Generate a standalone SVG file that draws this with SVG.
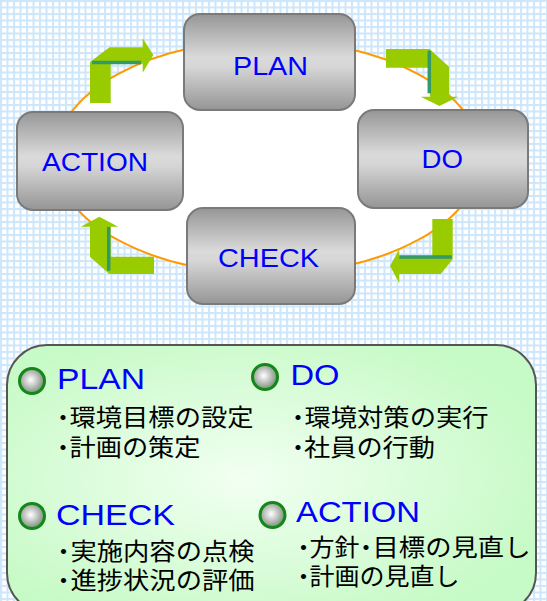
<svg xmlns="http://www.w3.org/2000/svg" width="547" height="601" viewBox="0 0 547 601">
  <defs>
    <pattern id="grid" width="6.5" height="6.5" patternUnits="userSpaceOnUse">
      <rect width="6.5" height="6.5" fill="#cde6fb"/>
      <rect x="2" y="2" width="4.5" height="4.5" fill="#ffffff"/>
    </pattern>
    <linearGradient id="boxGrad" x1="0" y1="0" x2="0" y2="1">
      <stop offset="0" stop-color="#969696"/>
      <stop offset="0.45" stop-color="#dadada"/>
      <stop offset="0.55" stop-color="#d6d6d6"/>
      <stop offset="1" stop-color="#959595"/>
    </linearGradient>
    <radialGradient id="panelGrad" cx="0.45" cy="0.5" r="0.6">
      <stop offset="0" stop-color="#f2fff2"/>
      <stop offset="1" stop-color="#c6fac6"/>
    </radialGradient>
    <radialGradient id="bulletGrad" cx="0.45" cy="0.45" r="0.55">
      <stop offset="0" stop-color="#ffffff"/>
      <stop offset="0.6" stop-color="#b4b8b4"/>
      <stop offset="1" stop-color="#6a9a6a"/>
    </radialGradient>
    <style>
      .box { fill: url(#boxGrad); stroke: #7a7a7a; stroke-width: 2; }
      .boxlabel { font-family: "Liberation Sans", Arial, sans-serif; font-size: 25.5px; fill: #0000ff; }
      .arrow { fill: #99cc00; }
      .teal { stroke: #339966; stroke-width: 3.5; fill: none; }
      .head { font-family: "Liberation Sans", Arial, sans-serif; font-size: 29px; fill: #0000ff; }
      .jp { font-family: "Liberation Sans", "Noto Sans CJK JP", "Noto Sans CJK SC", sans-serif; font-size: 24px; fill: #000000; font-feature-settings: "halt"; }
      .bullet { fill: url(#bulletGrad); stroke: #15861a; stroke-width: 3; }
    </style>
  </defs>

  <rect x="0" y="0" width="547" height="601" fill="url(#grid)"/>

  <g id="connectors">
    <ellipse cx="268" cy="157" rx="213" ry="117" fill="#ffffff" stroke="#ff9900" stroke-width="2"/>
    <g id="arrow-action-plan">
      <polygon class="arrow" points="90,103 90,62 109.5,47.3 142.7,47.3 142.7,38.3 153.3,55 142.7,72.7 142.7,62.7 110.7,62.7 110.7,103"/>
      <line class="teal" x1="92" y1="62.5" x2="141" y2="62.5"/>
    </g>
    <g id="arrow-plan-do">
      <polygon class="arrow" points="386,49 429.5,49 449,66.7 449,96.7 458.3,96.7 439.5,106 420.7,96.7 430,96.7 430,67.7 386,67.7"/>
      <line class="teal" x1="429.3" y1="50.7" x2="429.3" y2="93.3"/>
    </g>
    <g id="arrow-do-check">
      <polygon class="arrow" points="432.3,219 452.7,219 452.7,259.3 440.7,274 399.3,274 399.3,283.3 390,266 399.3,249.3 399.3,257 432.3,257"/>
      <line class="teal" x1="399.3" y1="257" x2="451.7" y2="257"/>
    </g>
    <g id="arrow-check-action">
      <polygon class="arrow" points="90,226.7 80.7,226.7 99.3,216.7 118.3,226.7 110.7,226.7 110.7,256.7 154,256.7 154,274 109.3,274 90,256.7"/>
      <line class="teal" x1="108.7" y1="227" x2="108.7" y2="270.7"/>
    </g>
  </g>

  <g id="node-plan">
    <rect class="box" x="184" y="14" width="171" height="96" rx="16"/>
    <text class="boxlabel" x="233" y="75" textLength="75" lengthAdjust="spacingAndGlyphs">PLAN</text>
  </g>
  <g id="node-do">
    <rect class="box" x="358" y="110" width="170" height="98" rx="16"/>
    <text class="boxlabel" x="421.5" y="168" textLength="41.5" lengthAdjust="spacingAndGlyphs">DO</text>
  </g>
  <g id="node-check">
    <rect class="box" x="187" y="208" width="168" height="96" rx="16"/>
    <text class="boxlabel" x="218" y="267" textLength="101" lengthAdjust="spacingAndGlyphs">CHECK</text>
  </g>
  <g id="node-action">
    <rect class="box" x="17" y="112" width="166" height="98" rx="16"/>
    <text class="boxlabel" x="42" y="171" textLength="106" lengthAdjust="spacingAndGlyphs">ACTION</text>
  </g>

  <g id="legend">
    <rect x="7" y="345" width="529" height="268" rx="40" fill="url(#panelGrad)" stroke="#555555" stroke-width="2"/>

    <g id="legend-plan">
      <circle class="bullet" cx="32" cy="381" r="12.5"/>
      <text class="head" x="57" y="389" textLength="88" lengthAdjust="spacingAndGlyphs">PLAN</text>
      <text class="jp" x="57" y="426">・<tspan x="69.5" textLength="184" lengthAdjust="spacingAndGlyphs">環境目標の設定</tspan></text>
      <text class="jp" x="57" y="456">・<tspan x="69.5" textLength="131" lengthAdjust="spacingAndGlyphs">計画の策定</tspan></text>
    </g>

    <g id="legend-do">
      <circle class="bullet" cx="265" cy="377" r="12.5"/>
      <text class="head" x="290.5" y="385" textLength="49" lengthAdjust="spacingAndGlyphs">DO</text>
      <text class="jp" x="292" y="426">・<tspan x="304.5" textLength="184" lengthAdjust="spacingAndGlyphs">環境対策の実行</tspan></text>
      <text class="jp" x="292" y="456">・<tspan x="304" textLength="131" lengthAdjust="spacingAndGlyphs">社員の行動</tspan></text>
    </g>

    <g id="legend-check">
      <circle class="bullet" cx="32" cy="516" r="12.5"/>
      <text class="head" x="56" y="525" textLength="119" lengthAdjust="spacingAndGlyphs">CHECK</text>
      <text class="jp" x="57.5" y="560">・<tspan x="70.5" textLength="184" lengthAdjust="spacingAndGlyphs">実施内容の点検</tspan></text>
      <text class="jp" x="57.5" y="589">・<tspan x="70.5" textLength="184" lengthAdjust="spacingAndGlyphs">進捗状況の評価</tspan></text>
    </g>

    <g id="legend-action">
      <circle class="bullet" cx="272.5" cy="515" r="12.5"/>
      <text class="head" x="296" y="522" textLength="124" lengthAdjust="spacingAndGlyphs">ACTION</text>
      <text class="jp" x="297.5" y="556">・<tspan x="309.5" textLength="50" lengthAdjust="spacingAndGlyphs">方針</tspan><tspan x="360">・</tspan><tspan x="372.5" textLength="158" lengthAdjust="spacingAndGlyphs">目標の見直し</tspan></text>
      <text class="jp" x="297.5" y="585">・<tspan x="309.5" textLength="150" lengthAdjust="spacingAndGlyphs">計画の見直し</tspan></text>
    </g>
  </g>
</svg>
